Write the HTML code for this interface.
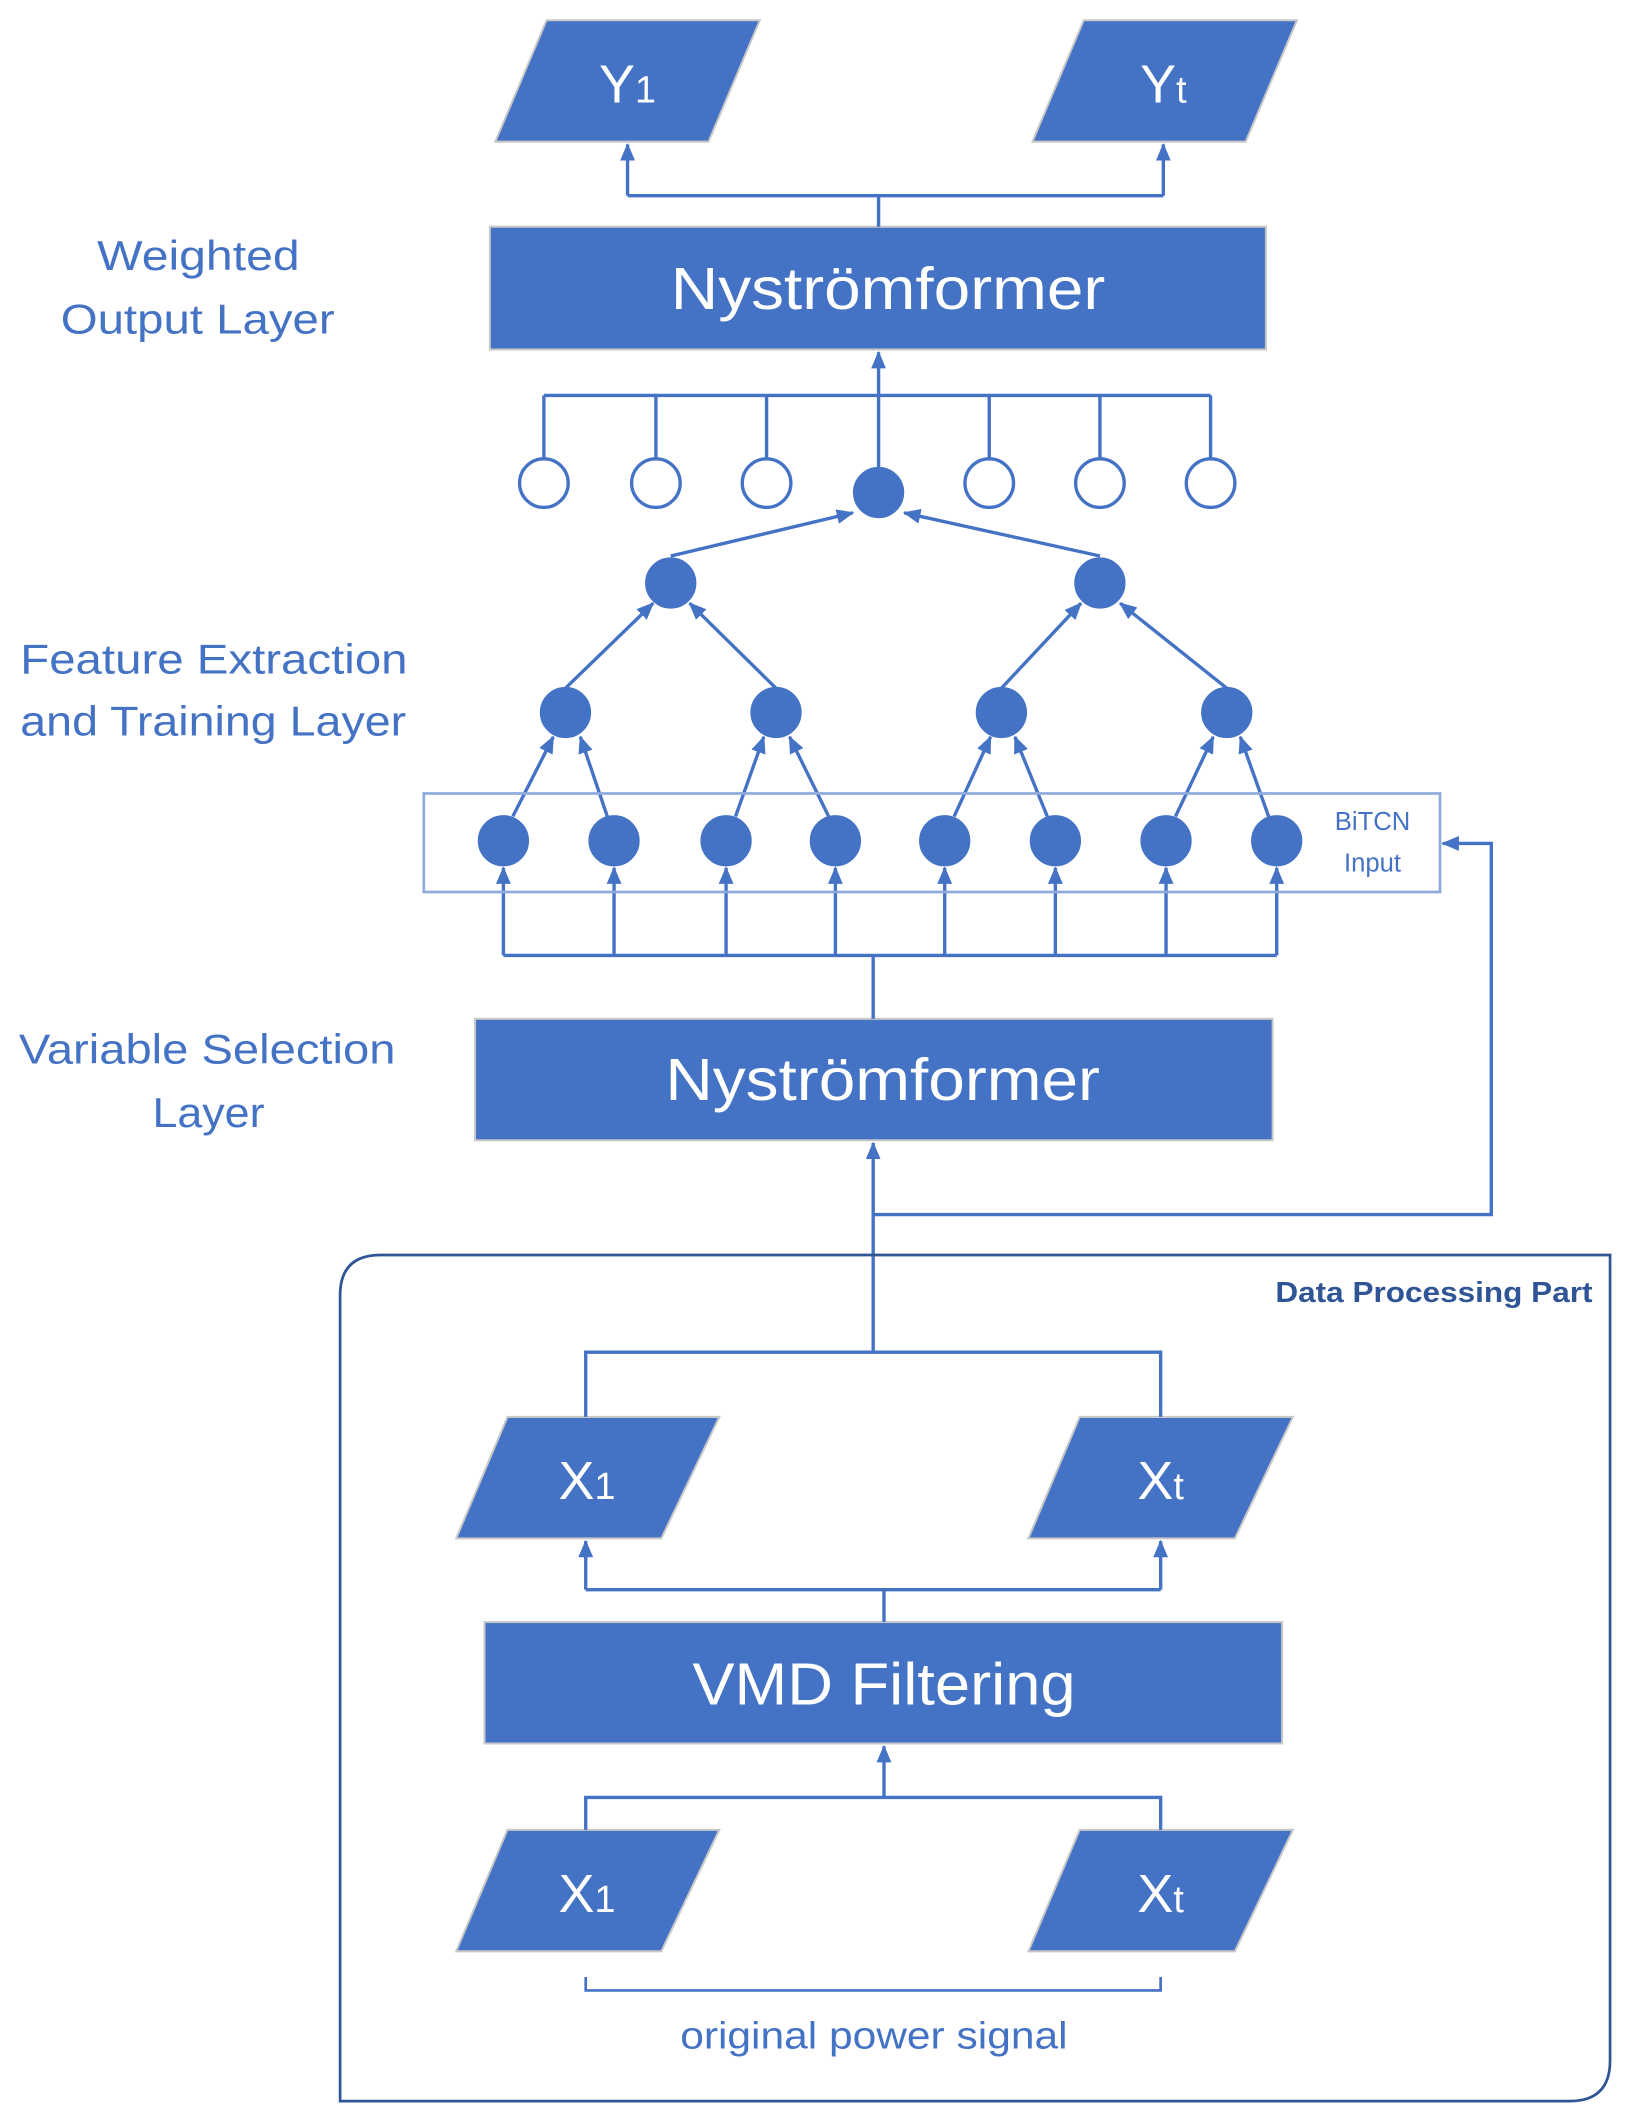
<!DOCTYPE html>
<html><head><meta charset="utf-8"><style>
html,body{margin:0;padding:0;background:#fff}
svg{display:block}
text{font-family:"Liberation Sans",sans-serif}
</style></head><body>
<svg width="1633" height="2120" viewBox="0 0 1210 1571" preserveAspectRatio="none" xmlns="http://www.w3.org/2000/svg">
<defs>
<marker id="a" markerWidth="13" markerHeight="11" refX="12" refY="5.5" orient="auto" markerUnits="userSpaceOnUse"><path d="M0,0 L13,5.5 L0,11 z" fill="#4472C4"/></marker>
</defs>
<g fill="#4472C4" stroke="#c8c8c8" stroke-width="1.5">
<polygon points="405,15 563,15 525,105 367,105"/>
<polygon points="803,15 961,15 923,105 765,105"/>
<rect x="363" y="168" width="575" height="91"/>
<rect x="352" y="755" width="591" height="90"/>
<polygon points="376,1050 533,1050 490,1140 338,1140"/>
<polygon points="800,1050 958,1050 915,1140 762,1140"/>
<rect x="359" y="1202" width="591" height="90"/>
<polygon points="376,1356 533,1356 490,1446 338,1446"/>
<polygon points="800,1356 958,1356 915,1446 762,1446"/>
</g>
<g fill="#fff" font-size="40" text-anchor="middle">
<text x="465" y="76">Y<tspan font-size="28">1</tspan></text>
<text x="862" y="76">Y<tspan font-size="28">t</tspan></text>
<text x="658" y="229" font-size="44" textLength="322" lengthAdjust="spacingAndGlyphs">Nyströmformer</text>
<text x="654" y="815" font-size="44" textLength="322" lengthAdjust="spacingAndGlyphs">Nyströmformer</text>
<text x="435" y="1111">X<tspan font-size="28">1</tspan></text>
<text x="860" y="1111">X<tspan font-size="28">t</tspan></text>
<text x="655" y="1263" font-size="44" textLength="284" lengthAdjust="spacingAndGlyphs">VMD Filtering</text>
<text x="435" y="1417">X<tspan font-size="28">1</tspan></text>
<text x="860" y="1417">X<tspan font-size="28">t</tspan></text>
</g>
<g stroke="#4472C4" stroke-width="2.5" fill="none">
<path d="M651,168 V145 M465,145 H862"/>
<path d="M465,145 V107" marker-end="url(#a)"/>
<path d="M862,145 V107" marker-end="url(#a)"/>
<path d="M651,347 V261" marker-end="url(#a)"/>
<path d="M403,293 H897 M403,293 V340 M486,293 V340 M568,293 V340 M733,293 V340 M815,293 V340 M897,293 V340"/>
<path d="M497,412 L632,380" marker-end="url(#a)"/>
<path d="M815,412 L670,380" marker-end="url(#a)"/>
<path d="M419,510 L484,447" marker-end="url(#a)"/>
<path d="M575,510 L511,447" marker-end="url(#a)"/>
<path d="M742,510 L801,447" marker-end="url(#a)"/>
<path d="M909,510 L830,447" marker-end="url(#a)"/>
<path d="M380,605 L410,546" marker-end="url(#a)"/>
<path d="M450,605 L430,546" marker-end="url(#a)"/>
<path d="M545,605 L566,546" marker-end="url(#a)"/>
<path d="M614,605 L585,546" marker-end="url(#a)"/>
<path d="M707,605 L734,546" marker-end="url(#a)"/>
<path d="M776,605 L752,546" marker-end="url(#a)"/>
<path d="M871,605 L899,546" marker-end="url(#a)"/>
<path d="M940,605 L919,546" marker-end="url(#a)"/>
<path d="M373,708 H946 M647,708 V755"/>
<path d="M373,708 V643" marker-end="url(#a)"/>
<path d="M455,708 V643" marker-end="url(#a)"/>
<path d="M538,708 V643" marker-end="url(#a)"/>
<path d="M619,708 V643" marker-end="url(#a)"/>
<path d="M700,708 V643" marker-end="url(#a)"/>
<path d="M782,708 V643" marker-end="url(#a)"/>
<path d="M864,708 V643" marker-end="url(#a)"/>
<path d="M946,708 V643" marker-end="url(#a)"/>
<path d="M647,1002 V847" marker-end="url(#a)"/>
<path d="M647,900 H1105 V625 H1069" marker-end="url(#a)"/>
<path d="M434,1050 V1002 H860 V1050"/>
<path d="M655,1202 V1178 M434,1178 H860"/>
<path d="M434,1178 V1142" marker-end="url(#a)"/>
<path d="M860,1178 V1142" marker-end="url(#a)"/>
<path d="M434,1356 V1332 H860 V1356"/>
<path d="M655,1332 V1294" marker-end="url(#a)"/>
<path d="M434,1465 V1475 H860 V1465" stroke-width="2"/>
<path d="M282,930 H1193 V1527 Q1193,1557 1163,1557 H252 V960 Q252,930 282,930 Z" stroke="#2F5597" stroke-width="2"/>
</g>
<rect x="314" y="588" width="753" height="73" fill="none" stroke="#8FAADC" stroke-width="2"/>
<g fill="#4472C4" stroke="#4472C4" stroke-width="2">
<circle cx="651" cy="365" r="18"/>
<circle cx="497" cy="432" r="18"/><circle cx="815" cy="432" r="18"/>
<circle cx="419" cy="528" r="18"/><circle cx="575" cy="528" r="18"/><circle cx="742" cy="528" r="18"/><circle cx="909" cy="528" r="18"/>
<circle cx="373" cy="623" r="18"/><circle cx="455" cy="623" r="18"/><circle cx="538" cy="623" r="18"/><circle cx="619" cy="623" r="18"/>
<circle cx="700" cy="623" r="18"/><circle cx="782" cy="623" r="18"/><circle cx="864" cy="623" r="18"/><circle cx="946" cy="623" r="18"/>
</g>
<g fill="#fff" stroke="#4472C4" stroke-width="2.5">
<circle cx="403" cy="358" r="18"/><circle cx="486" cy="358" r="18"/><circle cx="568" cy="358" r="18"/>
<circle cx="733" cy="358" r="18"/><circle cx="815" cy="358" r="18"/><circle cx="897" cy="358" r="18"/>
</g>
<g fill="#4472C4" font-size="31" lengthAdjust="spacingAndGlyphs">
<text x="72" y="200" textLength="150" lengthAdjust="spacingAndGlyphs">Weighted</text>
<text x="45" y="247" textLength="203" lengthAdjust="spacingAndGlyphs">Output Layer</text>
<text x="15" y="499" textLength="287" lengthAdjust="spacingAndGlyphs">Feature Extraction</text>
<text x="15" y="545" textLength="286" lengthAdjust="spacingAndGlyphs">and Training Layer</text>
<text x="14" y="788" textLength="279" lengthAdjust="spacingAndGlyphs">Variable Selection</text>
<text x="113" y="835" textLength="83" lengthAdjust="spacingAndGlyphs">Layer</text>
<text x="504" y="1518" font-size="28" textLength="287" lengthAdjust="spacingAndGlyphs">original power signal</text>
<text x="1017" y="615" text-anchor="middle" font-size="19">BiTCN</text>
<text x="1017" y="646" text-anchor="middle" font-size="19">Input</text>
</g>
<text x="945" y="965" font-size="21" font-weight="bold" fill="#2F5597" textLength="235" lengthAdjust="spacingAndGlyphs">Data Processing Part</text>
</svg>
</body></html>
